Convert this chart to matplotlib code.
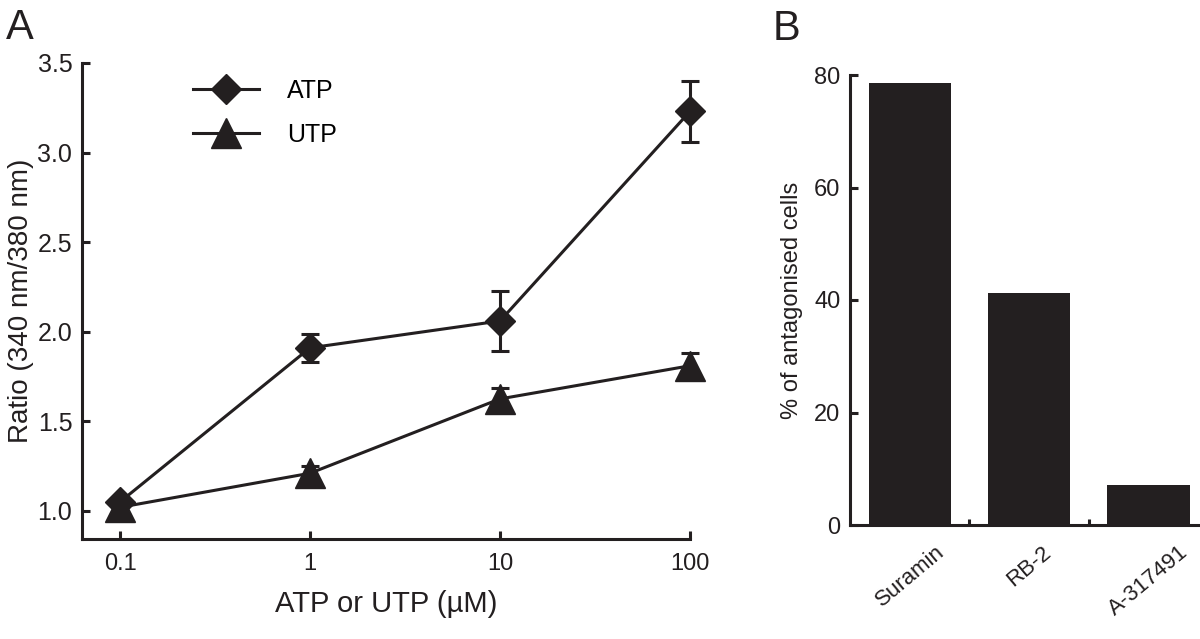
import matplotlib
matplotlib.use('Agg')
import matplotlib.pyplot as plt
from matplotlib.ticker import NullLocator, FixedLocator

plt.rcParams['font.family'] = ['Liberation Sans', 'DejaVu Sans']

################################################################################
# Data.                                                                        #
################################################################################

conc = [0.1, 1, 10, 100]
atp = [1.05, 1.91, 2.06, 3.23]
atp_err = [0.0, 0.08, 0.17, 0.17]
utp = [1.02, 1.21, 1.625, 1.81]
utp_err = [0.0, 0.04, 0.06, 0.07]

antagonists = ['Suramin', 'RB-2', 'A-317491']
pct_antagonised = [78.5, 41.3, 7.1]

ink = '#231f20'

################################################################################
# Figure.                                                                      #
################################################################################

fig = plt.figure(figsize=(12, 6.39), dpi=100)

# Panel A.
axA = fig.add_axes([82/1200, 1-539/639, 608/1200, 476/639])

for y, err in [(atp, atp_err), (utp, utp_err)]:
    eb = axA.errorbar(conc, y, yerr=err, fmt='none', ecolor=ink, elinewidth=2.2,
                      capsize=6.5, capthick=2.2, zorder=2)
    for a in list(eb.lines[1]) + list(eb.lines[2]):
        a.set_clip_on(False)

axA.plot(conc, atp, '-', color=ink, lw=2.2, marker='D', ms=15.5, mfc=ink, mec=ink,
         label='ATP', zorder=3, clip_on=False)
axA.plot(conc, utp, '-', color=ink, lw=2.2, marker='^', ms=21, mfc=ink, mec=ink,
         label='UTP', zorder=3, clip_on=False)

axA.set_xscale('log')
axA.set_xlim(10**-1.2, 100)
axA.set_ylim(0.843, 3.5)
axA.set_xticks(conc)
axA.set_xticklabels(['0.1', '1', '10', '100'])
axA.xaxis.set_minor_locator(NullLocator())
axA.set_yticks([1.0, 1.5, 2.0, 2.5, 3.0, 3.5])
axA.set_yticklabels(['1.0', '1.5', '2.0', '2.5', '3.0', '3.5'])

for s in ['top', 'right']:
    axA.spines[s].set_visible(False)
for s in ['left', 'bottom']:
    axA.spines[s].set_linewidth(2.2)
    axA.spines[s].set_color(ink)
axA.tick_params(axis='both', direction='in', length=6, width=2.2, color=ink,
                labelsize=18, labelcolor=ink)
axA.tick_params(axis='y', pad=7)
axA.tick_params(axis='x', pad=10, labelsize=17)

axA.set_xlabel(u'ATP or UTP (\u00b5M)', size=21, color=ink)
axA.set_ylabel('Ratio (340 nm/380 nm)', size=20, color=ink)
axA.xaxis.set_label_coords(0.5, -0.107)
axA.yaxis.set_label_coords(-0.079, 0.5)

axA.legend(loc='upper left', bbox_to_anchor=(0.182, 0.966), frameon=False,
           fontsize=18, handlelength=2.64, handletextpad=1.12, labelspacing=0.8,
           borderpad=0.0, borderaxespad=0.0, markerscale=1.0)

# Panel B.
axB = fig.add_axes([850/1200, 1-525/639, 350/1200, 450/639])

xpos = range(len(antagonists))
axB.bar(xpos, pct_antagonised, width=0.69, color=ink)
axB.set_xlim(-0.5, 2.43)
axB.set_ylim(0, 80)
axB.set_yticks([0, 20, 40, 60, 80])
axB.set_xticks(list(xpos))
axB.set_xticklabels(antagonists, rotation=40, ha='center')
axB.xaxis.set_minor_locator(FixedLocator([0.5, 1.5]))

for s in ['top', 'right']:
    axB.spines[s].set_visible(False)
for s in ['left', 'bottom']:
    axB.spines[s].set_linewidth(2.2)
    axB.spines[s].set_color(ink)
axB.tick_params(axis='y', direction='in', length=6, width=2.2, color=ink,
                labelsize=17, labelcolor=ink, pad=7)
axB.tick_params(axis='x', which='major', length=0, labelsize=16,
                labelcolor=ink, pad=12)
axB.tick_params(axis='x', which='minor', direction='in', length=4, width=2.2,
                color=ink)

axB.set_ylabel('% of antagonised cells', size=17, color=ink)
axB.yaxis.set_label_coords(-0.134, 0.5)

# Panel letters.
fig.text(20/1200, 1-28/639, 'A', size=30, ha='center', va='center', color=ink)
fig.text(786/1200, 1-29/639, 'B', size=30, ha='center', va='center', color=ink)

fig.savefig('out.png', dpi=100)
plt.close()
